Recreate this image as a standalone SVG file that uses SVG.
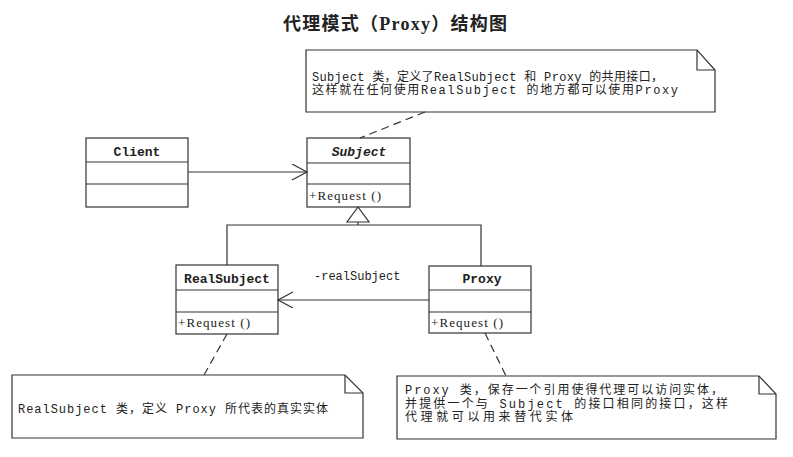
<svg xmlns="http://www.w3.org/2000/svg" width="793" height="457" viewBox="0 0 793 457">
<defs>
<style>
.box{fill:#fff;stroke:#333;stroke-width:1.2}
.ln{fill:none;stroke:#333;stroke-width:1.2}
.dash{fill:none;stroke:#333;stroke-width:1.2;stroke-dasharray:8 5}
.cls{font-family:"Liberation Mono","Noto Sans CJK SC",monospace;font-weight:bold;font-size:13px;fill:#222;text-anchor:middle}
.op{font-family:"Liberation Serif","Noto Sans CJK SC",serif;font-size:13px;fill:#222}
.note{font-family:"Liberation Mono","Noto Sans CJK SC",monospace;font-size:12px;fill:#222}
.title{font-family:"Liberation Serif","Noto Sans CJK SC",serif;font-weight:bold;font-size:18px;fill:#222}
</style>
<marker id="open" markerWidth="20" markerHeight="20" refX="16" refY="8" orient="auto" markerUnits="userSpaceOnUse">
<path d="M1,0 L16,8 L1,16" fill="none" stroke="#333" stroke-width="1.2"/>
</marker>
</defs>
<rect width="793" height="457" fill="#fff"/>
<text class="title" x="283" y="30" textLength="224" lengthAdjust="spacing">代理模式（Proxy）结构图</text>

<g id="note-subject">
<path class="box" d="M306,50 H697 L715,70 V112 H306 Z"/>
<path class="ln" d="M697,50 V70 H715"/>
<text class="note" x="312" y="81" textLength="351" lengthAdjust="spacing">Subject 类，定义了RealSubject 和 Proxy 的共用接口，</text>
<text class="note" x="312" y="94" textLength="366" lengthAdjust="spacing">这样就在任何使用RealSubject 的地方都可以使用Proxy</text>
</g>

<g id="client">
<rect class="box" x="86" y="138" width="102" height="69"/>
<path class="ln" d="M86,162 H188 M86,184 H188"/>
<text class="cls" x="137" y="156">Client</text>
</g>

<g id="subject">
<rect class="box" x="307" y="138" width="103" height="69"/>
<path class="ln" d="M307,163 H410 M307,184 H410"/>
<text class="cls" x="359" y="156" font-style="italic">Subject</text>
<text class="op" x="309" y="200" textLength="72" lengthAdjust="spacing">+Request ()</text>
</g>

<g id="realsubject">
<rect class="box" x="176" y="265" width="102" height="69"/>
<path class="ln" d="M176,290 H278 M176,312 H278"/>
<text class="cls" x="227" y="283">RealSubject</text>
<text class="op" x="178" y="327" textLength="72" lengthAdjust="spacing">+Request ()</text>
</g>

<g id="proxy">
<rect class="box" x="429" y="266" width="102" height="67"/>
<path class="ln" d="M429,290 H531 M429,312 H531"/>
<text class="cls" x="482" y="283">Proxy</text>
<text class="op" x="431" y="327" textLength="72" lengthAdjust="spacing">+Request ()</text>
</g>

<g id="note-realsubject">
<path class="box" d="M12,375 H345 L363,393 V438 H12 Z"/>
<path class="ln" d="M345,375 V393 H363"/>
<text class="note" x="18" y="413" textLength="310" lengthAdjust="spacing">RealSubject 类，定义 Proxy 所代表的真实实体</text>
</g>

<g id="note-proxy">
<path class="box" d="M397,376 H759 L776,394 V439 H397 Z"/>
<path class="ln" d="M759,376 V394 H776"/>
<text class="note" x="405" y="394" font-size="11.5" textLength="318" lengthAdjust="spacing">Proxy 类，保存一个引用使得代理可以访问实体，</text>
<text class="note" x="405" y="407.5" font-size="11.5" textLength="323" lengthAdjust="spacing">并提供一个与 Subject 的接口相同的接口，这样</text>
<text class="note" x="405" y="421" font-size="11.5" textLength="168" lengthAdjust="spacing">代理就可以用来替代实体</text>
</g>

<g id="connectors">
<line class="ln" x1="188" y1="172" x2="307" y2="172" marker-end="url(#open)"/>
<path class="ln" d="M227,265 V225 H481 V266 M358,225 V222"/>
<polygon class="box" points="358,207 347,222 369,222"/>
<line class="ln" x1="429" y1="300" x2="278" y2="300" marker-end="url(#open)"/>
<text class="note" x="314" y="280" font-size="12">-realSubject</text>
<line class="dash" x1="425" y1="112" x2="360" y2="138"/>
<line class="dash" x1="227" y1="334" x2="204" y2="375"/>
<line class="dash" x1="485" y1="333" x2="506" y2="376"/>
</g>
</svg>
